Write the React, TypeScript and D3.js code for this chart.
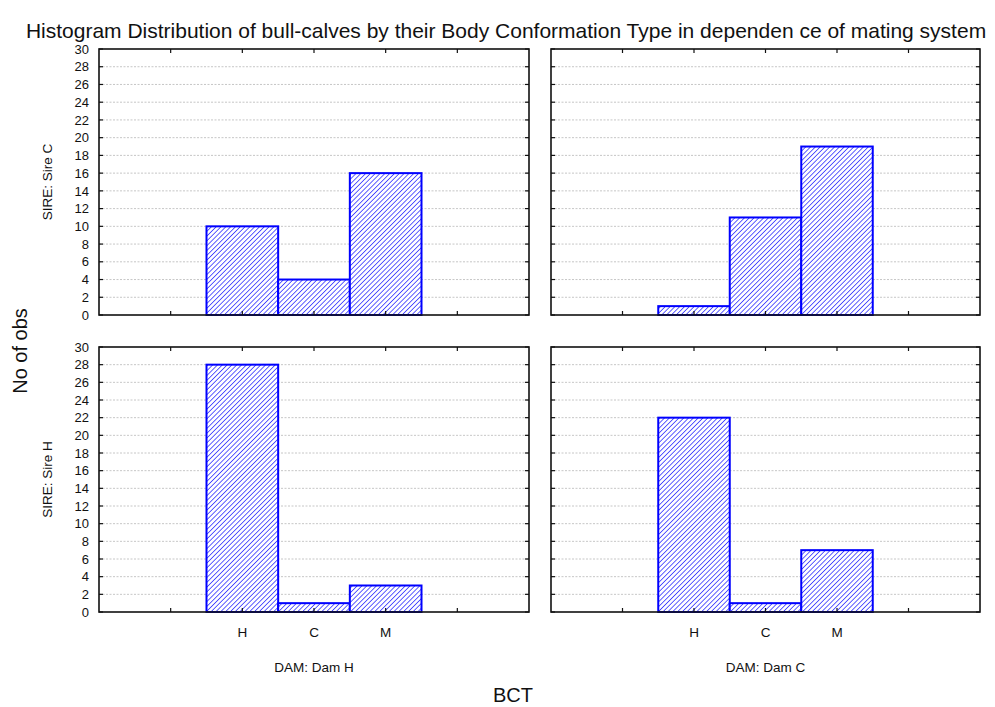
import React from "react";
import * as d3 from "d3";

const categories = ["H", "C", "M"];
const sires = ["SIRE: Sire C", "SIRE: Sire H"];
const dams = ["DAM: Dam H", "DAM: Dam C"];
// counts for H, C, M in each SIRE x DAM cell
const sireC_damH = [10, 4, 16];
const sireC_damC = [1, 11, 19];
const sireH_damH = [28, 1, 3];
const sireH_damC = [22, 1, 7];
const panelValues = [
  [sireC_damH, sireC_damC],
  [sireH_damH, sireH_damC],
];
const yTicks = d3.range(0, 31, 2);

const W = 995;
const H = 707;
const colX = [[99, 529], [551, 980]];
const rowY = [[49, 315], [347, 612]];
const FONT = "Liberation Sans, Arial, sans-serif";

export default function App() {
  const panels: React.ReactNode[] = [];
  for (let r = 0; r < 2; r++) {
    for (let c = 0; c < 2; c++) {
      const [x0, x1] = colX[c];
      const [y0, y1] = rowY[r];
      const x = d3.scaleLinear().domain([0, 6]).range([x0, x1]);
      const y = d3.scaleLinear().domain([0, 30]).range([y1, y0]);
      const vals = panelValues[r][c];
      panels.push(
        <g key={`${r}-${c}`}>
          {yTicks.filter((t) => t > 0 && t < 30).map((t) => (
            <line key={"g" + t} x1={x0} x2={x1} y1={y(t)} y2={y(t)} stroke="#b8b8b8" strokeWidth={0.8} strokeDasharray="2,1.5" />
          ))}
          {vals.map((v, i) => (
            <rect key={"b" + i} x={x(i + 1.5)} y={y(v)} width={x(i + 2.5) - x(i + 1.5)} height={y(0) - y(v)} fill="url(#hatch)" stroke="#0000ff" strokeWidth={2} />
          ))}
          <rect x={x0} y={y0} width={x1 - x0} height={y1 - y0} fill="none" stroke="#111" strokeWidth={1.6} />
          {d3.range(1, 6).map((k) => (
            <g key={"xt" + k}>
              <line x1={x(k)} x2={x(k)} y1={y0} y2={y0 + 4} stroke="#111" strokeWidth={1.2} />
              <line x1={x(k)} x2={x(k)} y1={y1} y2={y1 - 4} stroke="#111" strokeWidth={1.2} />
            </g>
          ))}
          {yTicks.map((t) => (
            <g key={"yt" + t}>
              <line x1={x0} x2={x0 + 4} y1={y(t)} y2={y(t)} stroke="#111" strokeWidth={1.2} />
              <line x1={x1} x2={x1 - 4} y1={y(t)} y2={y(t)} stroke="#111" strokeWidth={1.2} />
              {c === 0 && (
                <text x={x0 - 10} y={y(t)} dy="0.36em" textAnchor="end" fontSize={13} fontFamily={FONT} fill="#111">{t}</text>
              )}
            </g>
          ))}
          {r === 1 && categories.map((cat, i) => (
            <text key={"c" + i} x={x(i + 2)} y={637} textAnchor="middle" fontSize={13.5} fontFamily={FONT} fill="#111">{cat}</text>
          ))}
          {r === 1 && (
            <text x={x(3)} y={672} textAnchor="middle" fontSize={13.5} fontFamily={FONT} fill="#111">{dams[c]}</text>
          )}
          {c === 0 && (
            <text transform={`translate(52,${(y0 + y1) / 2}) rotate(-90)`} textAnchor="middle" fontSize={13.5} fontFamily={FONT} fill="#111">{sires[r]}</text>
          )}
        </g>
      );
    }
  }
  return (
    <svg width={W} height={H} style={{ position: "absolute", left: 0, top: 0, background: "#fff" }}>
      <defs>
        <pattern id="hatch" patternUnits="userSpaceOnUse" width={3.4} height={3.4} patternTransform="rotate(45)">
          <rect width={3.4} height={3.4} fill="#ffffff" />
          <line x1={0} y1={0} x2={0} y2={3.4} stroke="#2a2aff" strokeWidth={1.5} />
        </pattern>
      </defs>
      <text x={506} y={38} textAnchor="middle" fontSize={21} fontFamily={FONT} fill="#111">
        Histogram  Distribution of bull-calves by their Body Conformation Type in dependen ce of mating system
      </text>
      {panels}
      <text transform={`translate(27,351) rotate(-90)`} textAnchor="middle" fontSize={20} fontFamily={FONT} fill="#111">No of obs</text>
      <text x={513} y={702} textAnchor="middle" fontSize={20} fontFamily={FONT} fill="#111">BCT</text>
    </svg>
  );
}
